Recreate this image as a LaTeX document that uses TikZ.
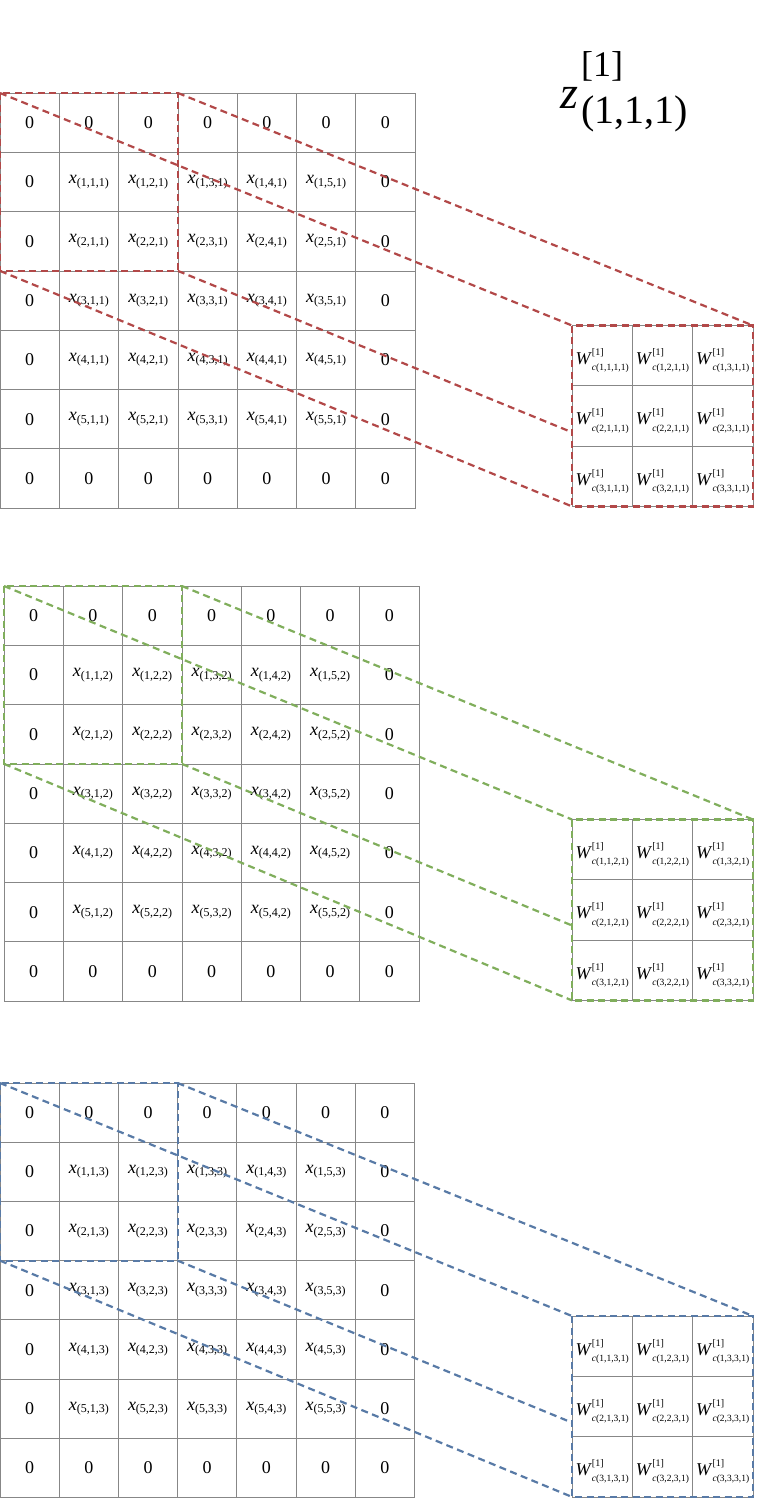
\documentclass[tikz,border=0pt]{standalone}
\usepackage{fontspec}
\setmainfont{Liberation Serif}
\definecolor{gridgray}{RGB}{135,135,135}
\definecolor{wred}{RGB}{178,72,72}
\definecolor{wgreen}{RGB}{128,174,92}
\definecolor{wblue}{RGB}{88,122,166}
\newcommand\xs[1]{\textit{x}\raisebox{-2.5pt}{\fontsize{12}{12}\selectfont(#1)}}
\newcommand\wl[1]{\textit{W}\rlap{\raisebox{9pt}{\fontsize{10}{10}\selectfont[1]}}\raisebox{-6.2pt}{\fontsize{9.5}{9.5}\selectfont\textit{c}(#1)}}
\tikzset{
  cell/.style={draw=gridgray, line width=0.8pt, inner sep=0pt, outer sep=0pt,
    anchor=north west, font=\fontsize{18}{18}\selectfont},
  kcell/.style={cell, fill=white, minimum width=60.3pt, minimum height=60.3pt,
    text height=18pt, text depth=0pt},
  win/.style={line width=2.2pt, dash pattern=on 7pt off 4.5pt},
}
\begin{document}
\begin{tikzpicture}[x=1pt,y=-1pt]
\useasboundingbox (0,0) rectangle (770,1500);
\foreach \k/\bx/\by/\cs/\ky/\col in {1/0/93/59.3/325.5/wred, 2/4/586/59.3/819.5/wgreen, 3/0/1083/59.2/1316/wblue} {
  \foreach \i in {1,...,7} {
    \foreach \j in {1,...,7} {
      \pgfmathtruncatemacro\ii{\i-1}
      \pgfmathtruncatemacro\jj{\j-1}
      \pgfmathtruncatemacro\pad{(\i==1)||(\i==7)||(\j==1)||(\j==7)}
      \node[cell, minimum width=\cs pt, minimum height=\cs pt] (g\k-\i-\j)
        at ({\bx+(\j-1)*\cs},{\by+(\i-1)*\cs}) {\ifnum\pad=1 0\else\xs{\ii,\jj,\k}\fi};
    }
  }
  \path (572,\ky) coordinate (ktl\k) ++(180.9,0) coordinate (ktr\k)
        ++(0,180.9) coordinate (kbr\k) ++(-180.9,0) coordinate (kbl\k);
  \draw[win, draw=\col] (g\k-1-1.north west) -- (ktl\k);
  \draw[win, draw=\col] (g\k-1-3.north east) -- (ktr\k);
  \draw[win, draw=\col] (g\k-3-1.south west) -- (kbl\k);
  \draw[win, draw=\col] (g\k-3-3.south east) -- (kbr\k);
  \foreach \i in {1,2,3} {
    \foreach \j in {1,2,3} {
      \node[kcell] (k\k-\i-\j) at ({572+(\j-1)*60.3},{\ky+(\i-1)*60.3}) {\wl{\i,\j,\k,1}};
    }
  }
  \draw[win, draw=\col] (g\k-1-1.north west) rectangle (g\k-3-3.south east);
  \draw[win, draw=\col] (k\k-1-1.north west) rectangle (k\k-3-3.south east);
}
\node[anchor=base west, inner sep=0pt] (title) at (560,108)
  {\fontsize{46}{46}\selectfont\textit{z}\kern3pt\rlap{\raisebox{31.5pt}{\fontsize{36}{36}\selectfont[1]}}\raisebox{-15pt}{\fontsize{40}{40}\selectfont(1,1,1)}};
\end{tikzpicture}
\end{document}
